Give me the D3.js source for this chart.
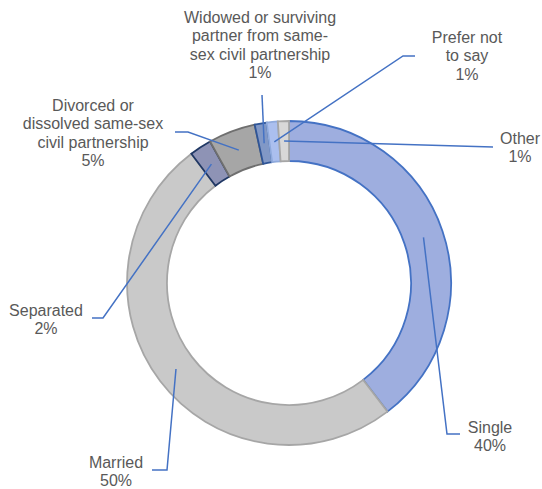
<!DOCTYPE html>
<html>
<head>
<meta charset="utf-8">
<script src="https://cdn.jsdelivr.net/npm/d3@7"></script>
<style>
  body { margin: 0; background: #fff; }
  svg text { font-family: "Liberation Sans", Arial, sans-serif; font-size: 16px; fill: #595959; }
</style>
</head>
<body>
<div id="chart"></div>
<script>
// data (clockwise from 12 o'clock)
var categories = ["Single", "Married", "Separated", "Divorced or dissolved same-sex civil partnership",
    "Widowed or surviving partner from same-sex civil partnership", "Prefer not to say", "Other"];
var shares = [39.6, 50.1, 2.2, 4.7, 1.2, 1.1, 1.1];
var shareLabels = ["40%", "50%", "2%", "5%", "1%", "1%", "1%"];

// how each label wraps in the original
var labelLines = [
    ["Single"],
    ["Married"],
    ["Separated"],
    ["Divorced or", "dissolved same-sex", "civil partnership"],
    ["Widowed or surviving", "partner from same-", "sex civil partnership"],
    ["Prefer not", "to say"],
    ["Other"]
];

var fills   = ["#9eaedf", "#c9c9c9", "#8e93b5", "#a6a6a6", "#8198c6", "#abbfee", "#d8d8d8"];
var strokes = ["#4472c4", "#a6a6a6", "#203864", "#6f6f6f", "#2f5597", "#8faadc", "#a6a6a6"];

// label layout: text centre, leader elbow and leader end
var labelLayout = [
    { x: 490, y: 427, elbow: [447, 434], end: [460, 434] },
    { x: 116, y: 462, elbow: [167, 470], end: [152, 470] },
    { x: 46,  y: 310, elbow: [103, 318], end: [92, 318] },
    { x: 93,  y: 105, elbow: [188, 132], end: [175, 132] },
    { x: 260, y: 17,  elbow: null,       end: [262, 95] },
    { x: 467, y: 37,  elbow: [403, 56],  end: [415, 56] },
    { x: 520, y: 138, elbow: null,       end: [493, 147] }
];

var width = 542, height = 489;
var cx = 289, cy = 283, outerR = 162, innerR = 122;
var lineH = 18.5;

var svg = d3.select("#chart").append("svg")
    .attr("width", width)
    .attr("height", height);

var data = categories.map(function (c, i) {
    return { name: c, value: shares[i], idx: i };
});

var pie = d3.pie().value(function (d) { return d.value; }).sort(null);
var arc = d3.arc().innerRadius(innerR).outerRadius(outerR);

var g = svg.append("g").attr("transform", "translate(" + cx + "," + cy + ")");

g.selectAll("path.slice")
    .data(pie(data))
    .enter()
    .append("path")
    .attr("class", "slice")
    .attr("d", arc)
    .attr("fill", function (d) { return fills[d.data.idx]; })
    .attr("stroke", function (d) { return strokes[d.data.idx]; })
    .attr("stroke-width", 1.8)
    .attr("stroke-linejoin", "miter");

// leader lines from slice centroid
var line = d3.line();
pie(data).forEach(function (d) {
    var i = d.data.idx;
    var c = arc.centroid(d);
    var start = [c[0] + cx, c[1] + cy];
    var lay = labelLayout[i];
    var pts = [start];
    if (lay.elbow) pts.push(lay.elbow);
    pts.push(lay.end);
    svg.append("path")
        .attr("d", line(pts))
        .attr("fill", "none")
        .attr("stroke", "#4472c4")
        .attr("stroke-width", 1.5);
});

// labels
labelLines.forEach(function (lines, i) {
    var lay = labelLayout[i];
    var all = lines.concat([shareLabels[i]]);
    var t = svg.append("text")
        .attr("text-anchor", "middle")
        .attr("x", lay.x)
        .attr("y", lay.y);
    all.forEach(function (s, k) {
        t.append("tspan")
            .attr("x", lay.x)
            .attr("y", lay.y + k * lineH)
            .attr("dy", "0.35em")
            .text(s);
    });
});
</script>
</body>
</html>
